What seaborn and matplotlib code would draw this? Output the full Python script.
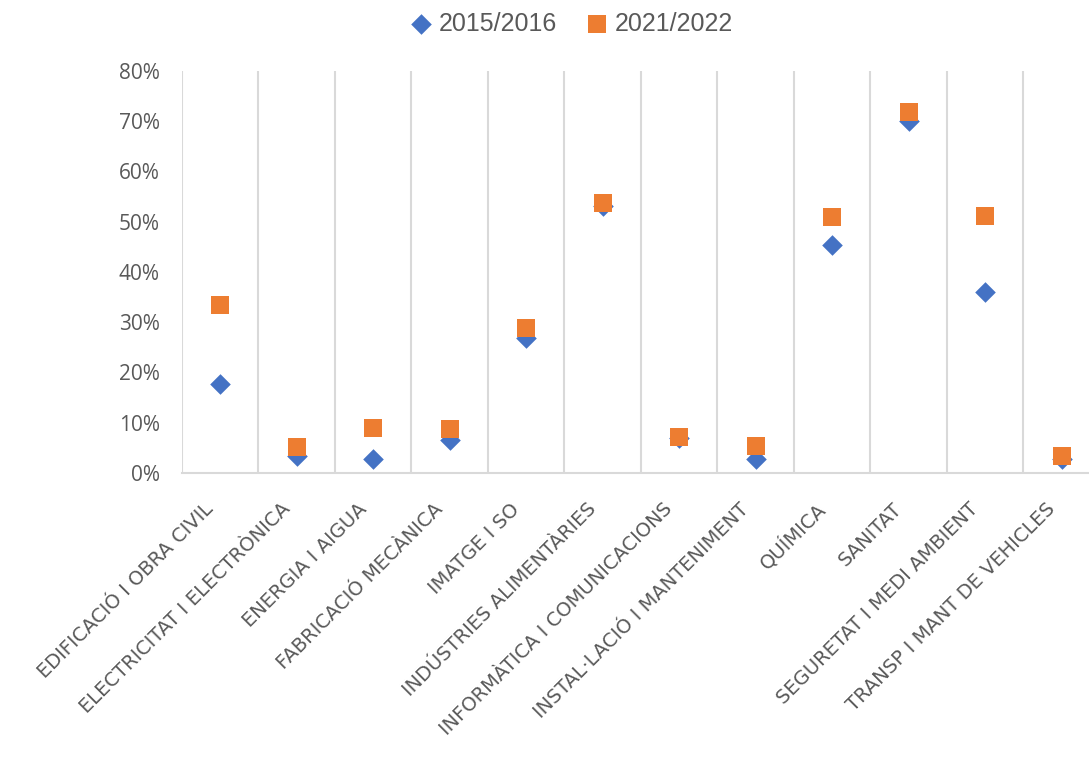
import matplotlib
matplotlib.use("Agg")
import matplotlib.pyplot as plt
import matplotlib.transforms as mtransforms
import seaborn as sns
import pandas as pd
from matplotlib.ticker import PercentFormatter, FixedLocator

categories = [
    "EDIFICACIÓ I OBRA CIVIL",
    "ELECTRICITAT I ELECTRÒNICA",
    "ENERGIA I AIGUA",
    "FABRICACIÓ MECÀNICA",
    "IMATGE I SO",
    "INDÚSTRIES ALIMENTÀRIES",
    "INFORMÀTICA I COMUNICACIONS",
    "INSTAL·LACIÓ I MANTENIMENT",
    "QUÍMICA",
    "SANITAT",
    "SEGURETAT I MEDI AMBIENT",
    "TRANSP I MANT DE VEHICLES",
]
series_names = ["2015/2016", "2021/2022"]
values_2015 = [0.177, 0.034, 0.028, 0.066, 0.268, 0.531, 0.070, 0.028, 0.454, 0.700, 0.360, 0.028]
values_2021 = [0.334, 0.052, 0.090, 0.088, 0.288, 0.537, 0.072, 0.054, 0.510, 0.718, 0.511, 0.034]
yticks = [0.0, 0.1, 0.2, 0.3, 0.4, 0.5, 0.6, 0.7, 0.8]

BLUE = "#4472C4"
ORANGE = "#ED7D31"
GRID = "#D9D9D9"
TEXT = "#595959"

sns.set_style("white")
plt.rcParams["font.family"] = ["Liberation Sans", "DejaVu Sans"]

df15 = pd.DataFrame({"cat": categories, "val": values_2015})
df21 = pd.DataFrame({"cat": categories, "val": values_2021})

fig = plt.figure(figsize=(10.89, 7.69), dpi=100)
ax = fig.add_axes([0.1671, 0.385, 0.843, 0.5228])

sns.scatterplot(data=df15, x="cat", y="val", marker="D", s=110, color=BLUE,
                linewidth=0, label=series_names[0], ax=ax, zorder=3, clip_on=False)
sns.scatterplot(data=df21, x="cat", y="val", marker="s", s=175, color=ORANGE,
                linewidth=0, label=series_names[1], ax=ax, zorder=4, clip_on=False)

ax.set_xlim(-0.5, len(categories) - 0.5)
ax.set_ylim(0, 0.8)
ax.yaxis.set_major_locator(FixedLocator(yticks))
ax.yaxis.set_major_formatter(PercentFormatter(1.0, decimals=0))

# vertical gridlines at category boundaries
ax.xaxis.set_minor_locator(FixedLocator([i - 0.5 for i in range(len(categories) + 1)]))
ax.grid(False)
ax.grid(True, which="minor", axis="x", color=GRID, linewidth=1.5)
ax.tick_params(axis="x", which="minor", length=0)
ax.tick_params(axis="x", which="major", length=0, pad=24)
ax.tick_params(axis="y", length=0, pad=16)

for s in ["top", "right", "left"]:
    ax.spines[s].set_visible(False)
ax.spines["bottom"].set_color(GRID)
ax.spines["bottom"].set_linewidth(1.5)

ax.set_xlabel("")
ax.set_ylabel("")

ax.set_xticks(range(len(categories)))
ax.set_xticklabels(categories, rotation=45, ha="right", va="center",
                   rotation_mode="anchor", fontsize=14, color=TEXT)
shift = mtransforms.ScaledTranslation(-7 / 72, 0, fig.dpi_scale_trans)
for lab in ax.get_xticklabels():
    lab.set_family(["DejaVu Sans"])
    lab.set_transform(lab.get_transform() + shift)
for lab in ax.get_yticklabels():
    lab.set_fontsize(15)
    lab.set_color(TEXT)
    lab.set_family(["Open Sans", "DejaVu Sans"])

leg = ax.legend(loc="center", bbox_to_anchor=(0.524, 0.969), bbox_transform=fig.transFigure,
                ncol=2, frameon=False, fontsize=18, handletextpad=0.2, columnspacing=1.1,
                handlelength=1.0, markerscale=1.0)
for t in leg.get_texts():
    t.set_color(TEXT)

fig.savefig("out.png", dpi=100)
